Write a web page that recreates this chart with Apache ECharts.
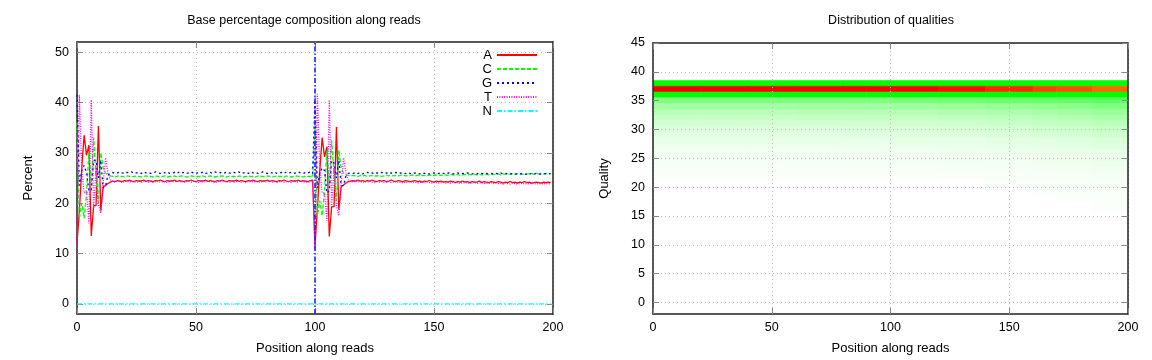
<!DOCTYPE html>
<html><head><meta charset="utf-8">
<script src="https://cdn.jsdelivr.net/npm/echarts@6/dist/echarts.min.js"></script>
<style>html,body{margin:0;padding:0;background:#fff}#c{width:1152px;height:360px}</style>
</head><body><div id="c"></div>
<script>
// ---------- data ----------
const positions = [];
for (let i = 0; i < 200; i++) positions.push(i);

const aFirst = [12.0, 18.5, 27.0, 33.5, 29.5, 31.5, 13.5, 19.5, 19.5, 35.3, 18.5, 23.3, 23.5, 23.9, 24.2,
24.4, 24.3, 24.5, 24.4, 24.3, 24.5, 24.4, 24.6, 24.4, 24.3, 24.5, 24.4, 24.4, 24.6, 24.3, 24.5, 24.4, 24.3, 24.5, 24.4,
24.6, 24.4, 24.3, 24.5, 24.4, 24.4, 24.6, 24.3, 24.5, 24.4, 24.3, 24.5, 24.4, 24.6, 24.4, 24.3, 24.5, 24.4, 24.4, 24.6,
24.3, 24.5, 24.4, 24.3, 24.5, 24.4, 24.6, 24.4, 24.3, 24.5, 24.4, 24.4, 24.6, 24.3, 24.5, 24.4, 24.3, 24.5, 24.4, 24.6,
24.4, 24.3, 24.5, 24.4, 24.4, 24.6, 24.3, 24.5, 24.4, 24.3, 24.5, 24.4, 24.6, 24.4, 24.3, 24.5, 24.4, 24.4, 24.6, 24.3, 24.5, 24.4, 24.3, 24.5, 24.6];
const aSecond = [11.5, 19.0, 26.5, 33.0, 29.2, 31.2, 13.4, 19.3, 19.3, 35.1, 18.7, 23.3, 23.6, 24.0, 24.3,
24.4, 24.5, 24.4, 24.6, 24.4, 24.5, 24.3, 24.5, 24.4, 24.6, 24.4, 24.3, 24.5, 24.4, 24.5, 24.3, 24.4, 24.6, 24.4, 24.3,
24.5, 24.4, 24.3, 24.5, 24.4, 24.3, 24.4, 24.5, 24.3, 24.4, 24.2, 24.4, 24.3, 24.5, 24.3, 24.2, 24.4, 24.3, 24.4, 24.2,
24.3, 24.2, 24.4, 24.3, 24.1, 24.3, 24.2, 24.4, 24.2, 24.3, 24.1, 24.3, 24.2, 24.2, 24.4, 24.1, 24.3, 24.2, 24.1, 24.3,
24.2, 24.1, 24.3, 24.2, 24.0, 24.2, 24.1, 24.3, 24.1, 24.2, 24.0, 24.2, 24.1, 24.3, 24.1, 24.2, 24.0, 24.1, 24.2, 24.1, 24.0, 24.2, 24.1, 24.2, 24.1];

const cFirst = [36.0, 17.0, 20.0, 17.0, 22.0, 30.0, 23.5, 33.0, 25.0, 20.0, 30.0, 27.0, 26.0, 25.6, 25.4,
25.3, 25.2, 25.4, 25.3, 25.3, 25.2, 25.4, 25.3, 25.2, 25.3, 25.4, 25.3, 25.2, 25.3, 25.4, 25.3, 25.3, 25.2, 25.4, 25.3,
25.2, 25.3, 25.4, 25.2, 25.3, 25.3, 25.4, 25.2, 25.3, 25.4, 25.3, 25.2, 25.3, 25.4, 25.3, 25.2, 25.3, 25.3, 25.4, 25.2,
25.3, 25.4, 25.3, 25.2, 25.3, 25.3, 25.4, 25.3, 25.2, 25.4, 25.3, 25.3, 25.2, 25.4, 25.3, 25.2, 25.3, 25.4, 25.3, 25.3,
25.2, 25.4, 25.3, 25.3, 25.2, 25.4, 25.3, 25.2, 25.3, 25.4, 25.3, 25.3, 25.2, 25.4, 25.3, 25.2, 25.3, 25.4, 25.3, 25.3, 25.2, 25.4, 25.3, 25.3, 25.2];
const cSecond = [35.5, 17.5, 20.5, 17.5, 22.5, 30.5, 23.5, 32.5, 25.5, 20.5, 30.5, 27.0, 26.0, 25.7, 25.5,
25.4, 25.5, 25.4, 25.3, 25.5, 25.4, 25.5, 25.3, 25.4, 25.5, 25.4, 25.4, 25.5, 25.3, 25.4, 25.5, 25.4, 25.5, 25.4, 25.5,
25.4, 25.5, 25.6, 25.4, 25.5, 25.5, 25.6, 25.4, 25.5, 25.6, 25.5, 25.5, 25.6, 25.5, 25.6, 25.5, 25.6, 25.6, 25.5, 25.6,
25.6, 25.5, 25.7, 25.6, 25.6, 25.7, 25.5, 25.6, 25.7, 25.6, 25.7, 25.6, 25.7, 25.6, 25.8, 25.6, 25.7, 25.7, 25.6, 25.8,
25.7, 25.7, 25.8, 25.6, 25.8, 25.7, 25.8, 25.7, 25.9, 25.7, 25.8, 25.8, 25.7, 25.9, 25.8, 25.8, 25.9, 25.7, 25.9, 25.8, 25.9, 25.8, 25.9, 25.9, 25.8];

const gFirst = [41.5, 23.5, 26.5, 27.5, 26.0, 22.5, 22.5, 28.5, 28.5, 25.0, 28.5, 23.0, 23.5, 25.5, 26.0,
26.1, 25.9, 26.0, 26.2, 26.0, 25.9, 26.1, 26.0, 26.2, 25.9, 26.0, 26.1, 25.9, 26.2, 26.0, 26.1, 25.9, 26.0, 26.2, 26.0,
25.9, 26.1, 26.0, 26.2, 25.9, 26.0, 26.1, 25.9, 26.2, 26.0, 26.1, 25.9, 26.0, 26.2, 26.0, 25.9, 26.1, 26.0, 26.2, 25.9,
26.0, 26.1, 25.9, 26.2, 26.0, 26.1, 25.9, 26.0, 26.2, 26.0, 25.9, 26.1, 26.0, 26.2, 25.9, 26.0, 26.1, 25.9, 26.2, 26.0,
26.1, 25.9, 26.0, 26.2, 26.0, 25.9, 26.1, 26.0, 26.2, 25.9, 26.0, 26.1, 25.9, 26.2, 26.0, 26.1, 25.9, 26.0, 26.2, 26.0, 25.9, 26.1, 26.0, 26.2, 25.9];
const gSecond = [41.0, 23.0, 26.0, 27.0, 26.5, 22.0, 22.5, 28.5, 28.0, 25.0, 28.5, 23.5, 23.5, 25.5, 25.9,
26.0, 25.9, 26.1, 25.9, 26.0, 25.8, 26.0, 26.1, 25.9, 26.0, 25.8, 26.0, 25.9, 26.1, 25.9, 26.0, 25.8, 26.0, 25.9, 26.1,
25.9, 26.0, 25.8, 25.9, 26.1, 25.9, 25.8, 26.0, 25.9, 25.8, 26.0, 25.9, 26.0, 25.8, 25.9, 26.0, 25.8, 25.9, 26.0, 25.9,
25.8, 26.0, 25.9, 25.8, 25.9, 26.0, 25.8, 25.9, 25.8, 26.0, 25.9, 25.8, 25.9, 25.8, 26.0, 25.9, 25.8, 25.9, 25.8, 25.9,
25.8, 25.9, 25.8, 26.0, 25.8, 25.9, 25.8, 25.9, 25.8, 25.7, 25.9, 25.8, 25.9, 25.8, 25.7, 25.9, 25.8, 25.8, 25.9, 25.7, 25.8, 25.9, 25.8, 25.8, 25.9];

const tFirst = [11.0, 41.5, 26.5, 22.0, 22.5, 16.0, 40.5, 19.0, 27.0, 19.7, 18.0, 24.0, 29.0, 26.0, 24.6,
24.3, 24.2, 24.4, 24.3, 24.1, 24.3, 24.4, 24.2, 24.3, 24.3, 24.1, 24.4, 24.2, 24.3, 24.4, 24.2, 24.3, 24.1, 24.3, 24.4,
24.2, 24.3, 24.3, 24.1, 24.4, 24.2, 24.3, 24.4, 24.2, 24.3, 24.1, 24.3, 24.4, 24.2, 24.3, 24.3, 24.1, 24.4, 24.2, 24.3,
24.4, 24.2, 24.3, 24.1, 24.3, 24.4, 24.2, 24.3, 24.3, 24.1, 24.4, 24.2, 24.3, 24.4, 24.2, 24.3, 24.1, 24.3, 24.4, 24.2,
24.3, 24.3, 24.1, 24.4, 24.2, 24.3, 24.4, 24.2, 24.3, 24.1, 24.3, 24.4, 24.2, 24.3, 24.3, 24.1, 24.4, 24.2, 24.3, 24.4, 24.2, 24.3, 24.1, 24.3, 24.4];
const tSecond = [10.8, 41.7, 27.0, 22.0, 22.0, 16.5, 40.5, 19.5, 27.0, 19.5, 17.5, 24.0, 29.0, 26.0, 24.5,
24.3, 24.2, 24.4, 24.2, 24.3, 24.1, 24.3, 24.2, 24.4, 24.2, 24.1, 24.3, 24.2, 24.3, 24.1, 24.2, 24.3, 24.1, 24.2, 24.3,
24.1, 24.2, 24.0, 24.2, 24.1, 24.3, 24.1, 24.2, 24.0, 24.1, 24.2, 24.0, 24.2, 24.1, 24.0, 24.2, 24.1, 24.0, 24.1, 24.2,
24.0, 24.1, 24.0, 24.2, 24.0, 24.1, 23.9, 24.1, 24.0, 24.1, 23.9, 24.0, 24.1, 23.9, 24.0, 24.1, 23.9, 24.0, 23.9, 24.1,
23.9, 24.0, 23.9, 24.0, 23.8, 24.0, 23.9, 23.8, 24.0, 23.9, 23.8, 23.9, 24.0, 23.8, 23.9, 23.8, 24.0, 23.9, 23.8, 23.9, 23.8, 23.9, 23.8, 23.9, 23.8];

const nValues = [
0,0,0,0,0,0,0,0,0,0,0,0,0,0,0,0,0,0,0,0, 0,0,0,0,0,0,0,0,0,0,0,0,0,0,0,0,0,0,0,0,
0,0,0,0,0,0,0,0,0,0,0,0,0,0,0,0,0,0,0,0, 0,0,0,0,0,0,0,0,0,0,0,0,0,0,0,0,0,0,0,0,
0,0,0,0,0,0,0,0,0,0,0,0,0,0,0,0,0,0,0,0, 0,0,0,0,0,0,0,0,0,0,0,0,0,0,0,0,0,0,0,0,
0,0,0,0,0,0,0,0,0,0,0,0,0,0,0,0,0,0,0,0, 0,0,0,0,0,0,0,0,0,0,0,0,0,0,0,0,0,0,0,0,
0,0,0,0,0,0,0,0,0,0,0,0,0,0,0,0,0,0,0,0, 0,0,0,0,0,0,0,0,0,0,0,0,0,0,0,0,0,0,0,0];

const aValues = aFirst.concat(aSecond);
const cValues = cFirst.concat(cSecond);
const gValues = gFirst.concat(gSecond);
const tValues = tFirst.concat(tSecond);

const readSplit = 100;
const xTicks = [0, 50, 100, 150, 200];
const pctTicks = [0, 10, 20, 30, 40, 50];
const qualTicks = [0, 5, 10, 15, 20, 25, 30, 35, 40, 45];

// quality heat map: column boundaries (positions) and per-quality values
const heatBounds = [0, 20, 40, 60, 80, 90, 100, 120, 140, 160, 170, 185, 200];
const heatQualities = [38, 37, 36, 35, 34, 33, 32, 31, 30, 29, 28, 27, 26, 25, 24, 23, 22, 21, 20, 19, 18, 17, 16];
const heatValues = [
[15,15,15,15,15,15,15,15,15,15,15,15],
[42,41,40.5,40.5,40.5,40.5,40,39,37,35,34,32],
[15,15,15,15,15,15,15,15,15,15,15,15],
[5.0,5.0,5.0,5.0,5.0,5.0,5.2,5.4,5.6,5.8,6.0,6.3],
[3.6,3.6,3.6,3.7,3.7,3.7,3.8,4.0,4.2,4.4,4.6,5.0],
[2.8,2.8,2.8,2.9,2.9,2.9,3.0,3.1,3.3,3.5,3.7,4.0],
[2.2,2.2,2.2,2.3,2.3,2.3,2.3,2.5,2.6,2.8,3.0,3.3],
[1.8,1.8,1.8,1.8,1.8,1.8,1.9,2.0,2.1,2.3,2.5,2.7],
[1.4,1.4,1.4,1.4,1.5,1.5,1.5,1.6,1.7,1.9,2.0,2.2],
[1.1,1.1,1.1,1.1,1.2,1.2,1.2,1.3,1.4,1.5,1.6,1.8],
[0.9,0.9,0.9,0.9,0.9,0.9,1.0,1.0,1.1,1.2,1.3,1.5],
[0.7,0.7,0.7,0.7,0.7,0.7,0.8,0.8,0.9,1.0,1.1,1.2],
[0.55,0.55,0.55,0.55,0.6,0.6,0.6,0.65,0.7,0.8,0.9,1.0],
[0.45,0.45,0.45,0.45,0.5,0.5,0.5,0.55,0.6,0.65,0.75,0.85],
[0.35,0.35,0.35,0.35,0.4,0.4,0.4,0.45,0.5,0.55,0.6,0.7],
[0.3,0.3,0.3,0.3,0.3,0.3,0.3,0.35,0.4,0.45,0.5,0.6],
[0.25,0.25,0.25,0.25,0.25,0.25,0.25,0.3,0.3,0.35,0.4,0.5],
[0,0,0,0,0,0,0,0,0.2,0.25,0.3,0.4],
[0,0,0,0,0,0,0,0,0.15,0.2,0.25,0.3],
[0,0,0,0,0,0,0,0,0,0.15,0.2,0.25],
[0,0,0,0,0,0,0,0,0,0,0.15,0.2],
[0,0,0,0,0,0,0,0,0,0,0,0.15],
[0,0,0,0,0,0,0,0,0,0,0,0.15]];

// ---------- build ----------
const FONT = '"Liberation Sans", Arial, Helvetica, sans-serif';
const heatCells = [];
heatQualities.forEach(function (q, r) {
  for (let c = 0; c < heatBounds.length - 1; c++) {
    const v = heatValues[r][c];
    if (v > 0) heatCells.push([heatBounds[c], heatBounds[c + 1], q, v]);
  }
});
function pairs(vals) { return positions.map(function (p, i) { return [p, vals[i]]; }); }

const axisLineStyle = { color: '#222', width: 1.5 };
const tickStyle = { color: '#888', width: 1 };
const splitStyle = { type: [1, 3], color: '#bbb', width: 1 };
const labelStyle = { color: '#000', fontSize: 12.5, fontFamily: FONT };
const nameStyle = { color: '#000', fontSize: 13, fontFamily: FONT };

function xMain(gi, z) {
  return { type: 'value', gridIndex: gi, min: 0, max: 200, position: 'bottom', z: z,
    axisLine: { show: true, onZero: false, lineStyle: axisLineStyle },
    axisTick: { show: true, inside: true, length: 6, customValues: xTicks, lineStyle: tickStyle },
    axisLabel: { show: true, customValues: xTicks, margin: 7, ...labelStyle },
    splitLine: { show: true, lineStyle: splitStyle },
    name: 'Position along reads', nameLocation: 'middle', nameGap: 28, nameTextStyle: nameStyle };
}
function xMirror(gi, z) {
  return { type: 'value', gridIndex: gi, min: 0, max: 200, position: 'top', z: z,
    axisLine: { show: true, onZero: false, lineStyle: axisLineStyle },
    axisTick: { show: true, inside: true, length: 6, customValues: xTicks, lineStyle: tickStyle },
    axisLabel: { show: false }, splitLine: { show: false } };
}
function yMain(gi, min, max, ticks, name, z) {
  return { type: 'value', gridIndex: gi, min: min, max: max, position: 'left', z: z,
    axisLine: { show: true, onZero: false, lineStyle: axisLineStyle },
    axisTick: { show: true, inside: true, length: 6, customValues: ticks, lineStyle: tickStyle },
    axisLabel: { show: true, customValues: ticks, margin: 8, ...labelStyle },
    splitLine: { show: true, lineStyle: splitStyle },
    name: name, nameLocation: 'middle', nameGap: 42, nameTextStyle: nameStyle };
}
function yMirror(gi, min, max, ticks, z) {
  return { type: 'value', gridIndex: gi, min: min, max: max, position: 'right', z: z,
    axisLine: { show: true, onZero: false, lineStyle: axisLineStyle },
    axisTick: { show: true, inside: true, length: 6, customValues: ticks, lineStyle: tickStyle },
    axisLabel: { show: false }, splitLine: { show: false } };
}

function lineSeries(name, vals, color, type) {
  return { name: name, type: 'line', xAxisIndex: 0, yAxisIndex: 0, data: pairs(vals),
    symbol: 'none', showSymbol: false, smooth: false, z: 2,
    lineStyle: { color: color, width: 1.3, type: type }, itemStyle: { color: color } };
}

const seriesN = lineSeries('N', nValues, '#00ffff', [5, 2, 1.5, 2]);
seriesN.markLine = { silent: true, symbol: ['none', 'none'], label: { show: false },
  itemStyle: { color: '#0000ff' },
  lineStyle: { color: '#2020ff', width: 1.6, type: [5, 2, 1.5, 2], opacity: 1 },
  emphasis: { disabled: true },
  data: [{ xAxis: readSplit, lineStyle: { color: '#2020ff' } }], animation: false };

const option = {
  animation: false,
  backgroundColor: '#fff',
  title: [
    { text: 'Base percentage composition along reads', left: 304, top: 14, textAlign: 'center', padding: 0,
      textStyle: { fontSize: 12.5, fontWeight: 'normal', color: '#000', fontFamily: FONT } },
    { text: 'Distribution of qualities', left: 891, top: 14, textAlign: 'center', padding: 0,
      textStyle: { fontSize: 12.5, fontWeight: 'normal', color: '#000', fontFamily: FONT } }
  ],
  legend: { data: ['A', 'C', 'G', 'T', 'N'], orient: 'vertical', right: 614, top: 48,
    itemWidth: 40, itemHeight: 14, itemGap: 0, align: 'right', padding: 0,
    itemStyle: { opacity: 0 },
    textStyle: { fontSize: 13, color: '#000', fontFamily: FONT, lineHeight: 14 } },
  grid: [
    { left: 77, top: 42, width: 476, height: 273, containLabel: false },
    { left: 653, top: 43, width: 475, height: 272, containLabel: false }
  ],
  xAxis: [xMain(0, 0), xMirror(0, 0), xMain(1, 5), xMirror(1, 5)],
  yAxis: [yMain(0, -2, 52, pctTicks, 'Percent', 0), yMirror(0, -2, 52, pctTicks, 0),
          yMain(1, -2, 45, qualTicks, 'Quality', 5), yMirror(1, -2, 45, qualTicks, 5)],
  visualMap: { show: false, type: 'continuous', seriesIndex: 5, dimension: 3, min: 0, max: 50,
    inRange: { color: ['#ffffff', '#00ff00', '#00ff00', '#ff8000', '#ff0000', '#c00000'] } },
  series: [
    lineSeries('A', aValues, '#ff0000', 'solid'),
    lineSeries('C', cValues, '#00ff00', [4, 2]),
    lineSeries('G', gValues, '#0000ff', [2, 3]),
    lineSeries('T', tValues, '#ff00ff', [1, 1.4]),
    seriesN,
    { type: 'custom', name: 'qualities', xAxisIndex: 2, yAxisIndex: 2, data: heatCells, clip: true, z: 1,
      encode: { x: [0, 1], y: 2 },
      renderItem: function (params, api) {
        const p0 = api.coord([api.value(0), api.value(2) + 0.5]);
        const p1 = api.coord([api.value(1), api.value(2) - 0.5]);
        const col = api.visual('color');
        return { type: 'rect', shape: { x: p0[0], y: p0[1], width: p1[0] - p0[0], height: p1[1] - p0[1] },
          style: { fill: col, stroke: col, lineWidth: 0.6 } };
      } }
  ]
};
const chart = echarts.init(document.getElementById('c'), null, { renderer: 'canvas' });
chart.setOption(option);
</script>
</body></html>
